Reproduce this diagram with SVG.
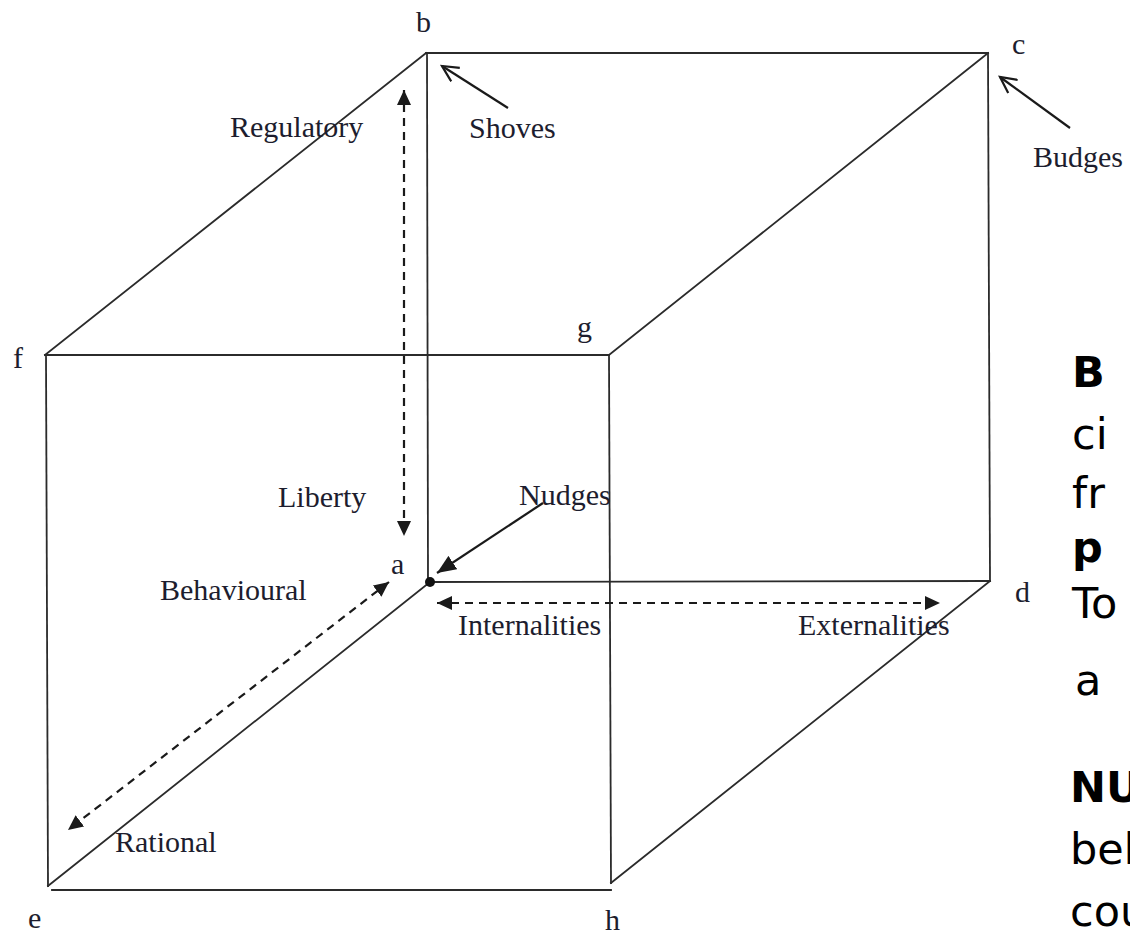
<svg xmlns="http://www.w3.org/2000/svg" width="1130" height="934" viewBox="0 0 1130 934">
  <style>
    .edge { stroke: #2b2b2b; stroke-width: 1.8; fill: none; stroke-linecap: square; }
    .dash { stroke: #1a1a1a; stroke-width: 2.2; fill: none; stroke-dasharray: 8 6; }
    .solid { stroke: #1a1a1a; stroke-width: 2.2; fill: none; }
    .lbl { font-family: "Liberation Serif", "Times New Roman", serif; font-size: 30px; fill: #1d1d2e; }
    .side { font-family: "DejaVu Sans", "Noto Sans", sans-serif; font-size: 43px; fill: #000; }
    .side .b { font-weight: bold; }
  </style>
  <defs>
    <marker id="tri" markerUnits="userSpaceOnUse" markerWidth="16" markerHeight="14" refX="15" refY="7" orient="auto-start-reverse" viewBox="0 0 16 14">
      <path d="M0,0 L15,7 L0,14 z" fill="#1a1a1a"/>
    </marker>
    <marker id="triBig" markerUnits="userSpaceOnUse" markerWidth="20" markerHeight="16" refX="19" refY="8" orient="auto" viewBox="0 0 20 16">
      <path d="M0,0 L19,8 L0,16 z" fill="#1a1a1a"/>
    </marker>
    <marker id="vee" markerUnits="userSpaceOnUse" markerWidth="20" markerHeight="18" refX="17" refY="9" orient="auto" viewBox="0 0 20 18">
      <path d="M1,1 L17,9 L1,17" fill="none" stroke="#1a1a1a" stroke-width="2.2"/>
    </marker>
  </defs>

  <rect width="1130" height="934" fill="#fff"/>

  <!-- cube edges -->
  <g id="edges">
    <line class="edge" x1="426" y1="53" x2="988" y2="53"/>
    <line class="edge" x1="45" y1="355" x2="426" y2="53"/>
    <line class="edge" x1="45" y1="355" x2="609" y2="355"/>
    <line class="edge" x1="609" y1="355" x2="988" y2="53"/>
    <line class="edge" x1="427" y1="53" x2="428" y2="582"/>
    <line class="edge" x1="988" y1="53" x2="990" y2="581"/>
    <line class="edge" x1="430" y1="582" x2="990" y2="581"/>
    <line class="edge" x1="609" y1="355" x2="611" y2="883"/>
    <line class="edge" x1="46" y1="355" x2="48" y2="886"/>
    <line class="edge" x1="430" y1="582" x2="48" y2="886"/>
    <line class="edge" x1="52" y1="890" x2="611" y2="890"/>
    <line class="edge" x1="990" y1="581" x2="611" y2="883"/>
  </g>

  <!-- corner labels -->
  <g id="node-b"><text class="lbl" x="416" y="32">b</text></g>
  <g id="node-c"><text class="lbl" x="1012" y="54">c</text></g>
  <g id="node-f"><text class="lbl" x="13" y="368">f</text></g>
  <g id="node-g"><text class="lbl" x="577" y="337">g</text></g>
  <g id="node-a">
    <circle cx="430" cy="582" r="5" fill="#111"/>
    <text class="lbl" x="391" y="574">a</text>
  </g>
  <g id="node-d"><text class="lbl" x="1015" y="602">d</text></g>
  <g id="node-e"><text class="lbl" x="28" y="928">e</text></g>
  <g id="node-h"><text class="lbl" x="605" y="930">h</text></g>

  <!-- axis and category labels -->
  <g id="node-regulatory"><text class="lbl" x="230" y="137">Regulatory</text></g>
  <g id="node-shoves"><text class="lbl" x="469" y="138">Shoves</text></g>
  <g id="node-budges"><text class="lbl" x="1033" y="167">Budges</text></g>
  <g id="node-liberty"><text class="lbl" x="278" y="507">Liberty</text></g>
  <g id="node-nudges"><text class="lbl" x="519" y="505">Nudges</text></g>
  <g id="node-behavioural"><text class="lbl" x="160" y="600">Behavioural</text></g>
  <g id="node-internalities"><text class="lbl" x="458" y="635">Internalities</text></g>
  <g id="node-externalities"><text class="lbl" x="798" y="635">Externalities</text></g>
  <g id="node-rational"><text class="lbl" x="115" y="852">Rational</text></g>

  <!-- connectors -->
  <g id="connectors">
    <line class="dash" x1="404" y1="90" x2="404" y2="536" marker-start="url(#tri)" marker-end="url(#tri)"/>
    <line class="dash" x1="389" y1="582" x2="68" y2="830" marker-start="url(#tri)" marker-end="url(#tri)"/>
    <line class="dash" x1="437" y1="603" x2="940" y2="603" marker-start="url(#tri)" marker-end="url(#tri)"/>
    <line class="solid" x1="543" y1="503" x2="437" y2="573" marker-end="url(#triBig)"/>
    <line class="solid" x1="508" y1="108" x2="442" y2="66" marker-end="url(#vee)"/>
    <line class="solid" x1="1070" y1="128" x2="1000" y2="77" marker-end="url(#vee)"/>
  </g>

  <!-- side text, running past the right edge -->
  <g id="side-text" class="side">
    <text x="1072" y="387"><tspan class="b">B</tspan></text>
    <text x="1072" y="449">ci</text>
    <text x="1072" y="508">fr</text>
    <text x="1072" y="562"><tspan class="b">p</tspan></text>
    <text x="1072" y="618">To</text>
    <text x="1075" y="695">a</text>
    <text x="1070" y="802"><tspan class="b">NU</tspan></text>
    <text x="1070" y="864">beh</text>
    <text x="1070" y="926">cou</text>
  </g>
</svg>
